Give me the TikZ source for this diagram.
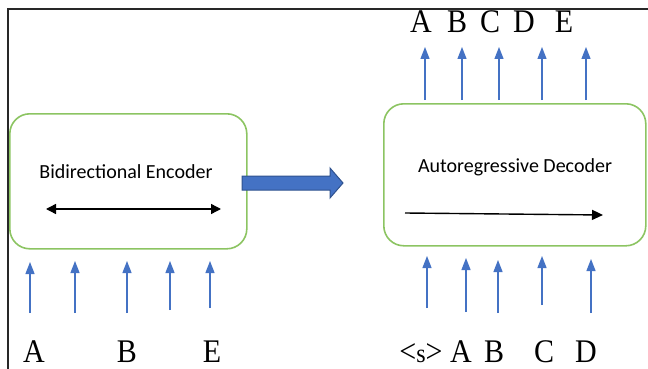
\documentclass[tikz,border=0pt]{standalone}
\usepackage{fontspec}
\usepackage{graphicx}
\setmainfont{Liberation Serif}
\newfontfamily\boxfont{Carlito}
\usetikzlibrary{arrows.meta}
\definecolor{arrowblue}{RGB}{68,114,196}
\definecolor{boxgreen}{RGB}{140,196,98}
\definecolor{darkblue}{RGB}{47,82,143}
\definecolor{framegray}{RGB}{40,40,40}
\newcommand\tallglyph[1]{\scalebox{1}[1.1]{#1}}
\begin{document}
\begin{tikzpicture}[x=1pt,y=-1pt,
  blk/.style={draw=boxgreen,line width=1.6pt,rounded corners=20pt,inner sep=0pt},
  tok/.style={anchor=base,inner sep=0pt,font=\fontsize{30}{30}\selectfont},
  blab/.style={anchor=base,inner sep=0pt,font=\boxfont\fontsize{20}{20}\selectfont},
  feed/.style={arrowblue,line width=1.3pt,-{Triangle[width=9pt,length=12pt]}},
  flow/.style={black,line width=1.4pt},
  bigarrow/.style={fill=arrowblue,draw=darkblue,line width=1pt}]
\useasboundingbox (0,0) rectangle (648,369);
% frame
\draw[framegray,line width=1.6pt] (8,369) -- (8,9) -- (648,9);
% boxes
\node[blk,minimum width=237pt,minimum height=135pt,anchor=north west] (enc) at (9,113) {};
\node[blk,minimum width=262pt,minimum height=142pt,anchor=north west] (dec) at (383,103) {};
% box labels
\node[blab] (enclab) at (126,178) {Bidirectional Encoder};
\node[blab] (declab) at (515,172) {Autoregressive Decoder};
% arrows inside boxes
\coordinate (el) at (46,209);
\coordinate (er) at (221,209);
\draw[flow,{Triangle[width=10pt,length=10pt]}-{Triangle[width=10pt,length=10pt]}] (el) -- (er);
\coordinate (dl) at (405,213);
\coordinate (dr) at (603,215);
\draw[flow,-{Triangle[width=10pt,length=11pt]}] (dl) -- (dr);
% block arrow
\draw[bigarrow] (242,176) -- (330,176) -- (330,168) -- (343,183) -- (330,198) -- (330,190) -- (242,190) -- cycle;
% encoder inputs
\foreach \x/\t/\h [count=\i] in {30/313/262, 75/313/261, 127/313/261, 170/310/261, 210/308/261}{
  \coordinate (ei\i) at (\x,\t);
  \coordinate (eo\i) at (\x,\h);
  \draw[feed] (ei\i) -- (eo\i);
}
\node[tok] (ta) at (34,362) {\tallglyph{A}};
\node[tok] (tb) at (127,362) {\tallglyph{B}};
\node[tok] (te) at (212,362) {\tallglyph{E}};
% decoder inputs
\foreach \x/\t/\h [count=\i] in {427/308/256, 466/312/258, 498/313/260, 542/305/256, 591/313/259}{
  \coordinate (di\i) at (\x,\t);
  \coordinate (do\i) at (\x,\h);
  \draw[feed] (di\i) -- (do\i);
}
\node[tok] (ds) at (421,362) {\tallglyph{<{\fontsize{24}{24}\selectfont s}>}};
\node[tok] (da) at (461,362) {\tallglyph{A}};
\node[tok] (db) at (494,362) {\tallglyph{B}};
\node[tok] (dc) at (544,362) {\tallglyph{C}};
\node[tok] (dd) at (586,362) {\tallglyph{D}};
% decoder outputs
\foreach \x [count=\i] in {425,462,499,542,586}{
  \coordinate (oi\i) at (\x,100);
  \coordinate (oo\i) at (\x,47);
  \draw[feed] (oi\i) -- (oo\i);
}
\node[tok] (oa) at (421,33) {\tallglyph{A}};
\node[tok] (ob) at (457,33) {\tallglyph{B}};
\node[tok] (oc) at (490,33) {\tallglyph{C}};
\node[tok] (od) at (524,33) {\tallglyph{D}};
\node[tok] (oe) at (564,33) {\tallglyph{E}};
\end{tikzpicture}
\end{document}
